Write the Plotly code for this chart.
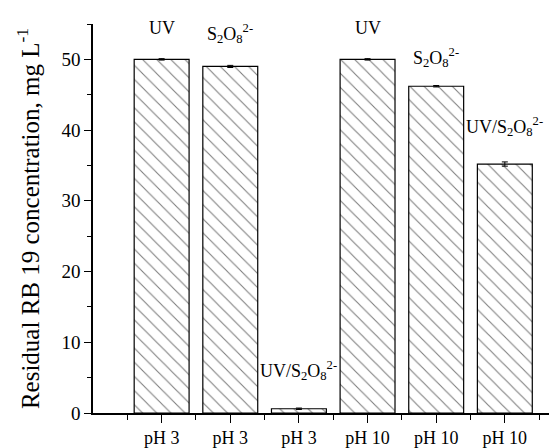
import plotly.graph_objects as go

categories = ["pH 3", "pH 3", "pH 3", "pH 10", "pH 10", "pH 10"]
treatments = ["UV", "S<sub>2</sub>O<sub>8</sub><sup>2-</sup>", "UV/S<sub>2</sub>O<sub>8</sub><sup>2-</sup>",
              "UV", "S<sub>2</sub>O<sub>8</sub><sup>2-</sup>", "UV/S<sub>2</sub>O<sub>8</sub><sup>2-</sup>"]
values = [50.0, 49.0, 0.6, 50.0, 46.2, 35.2]
errors = [0.1, 0.15, 0.1, 0.1, 0.1, 0.3]
positions = list(range(1, len(values) + 1))

font_family = "Liberation Serif, Times New Roman, serif"

fig = go.Figure()
fig.add_trace(go.Bar(
    x=positions, y=values, width=0.8,
    marker=dict(color="white", line=dict(color="black", width=1.2),
                pattern=dict(shape="\\", size=10, solidity=0.11, fgcolor="black", bgcolor="white")),
    error_y=dict(type="data", array=errors, visible=True, color="black", thickness=1, width=3),
    showlegend=False,
))

label_shift = [19, 18, 24, 19, 14, 23]
for xi, v, e, t, s in zip(positions, values, errors, treatments, label_shift):
    fig.add_annotation(x=xi, y=v, text=t, showarrow=False, xref="x", yref="y",
                       yanchor="bottom", yshift=s, font=dict(family=font_family, size=18, color="black"))

# page body has an 8px default margin: figure is shrunk so the plot area lands where the reference has it
fig.update_layout(
    width=549, height=440,
    margin=dict(l=85, r=0, t=16, b=33),
    paper_bgcolor="white", plot_bgcolor="white",
    font=dict(family=font_family, color="black"),
)
fig.update_xaxes(
    range=[0, 6.76], tickvals=positions, ticktext=categories,
    showline=True, linecolor="black", linewidth=1.5,
    ticks="outside", ticklen=8, tickwidth=1.2, tickcolor="black",
    tickfont=dict(family=font_family, size=18),
    minor=dict(tick0=0.5, dtick=1, ticks="outside", ticklen=5, tickwidth=1.2, tickcolor="black"),
    showgrid=False, zeroline=False,
)
fig.update_yaxes(
    range=[0, 55], tickvals=[0, 10, 20, 30, 40, 50],
    showline=True, linecolor="black", linewidth=1.5,
    ticks="outside", ticklen=7, tickwidth=1.2, tickcolor="black",
    tickfont=dict(family=font_family, size=19),
    minor=dict(tick0=5, dtick=10, ticks="outside", ticklen=4, tickwidth=1.2, tickcolor="black"),
    showgrid=False, zeroline=False,
    title=dict(text="Residual RB 19 concentration, mg L<sup>-1</sup>",
               font=dict(family=font_family, size=25), standoff=15),
)

fig.write_html("out.html")
